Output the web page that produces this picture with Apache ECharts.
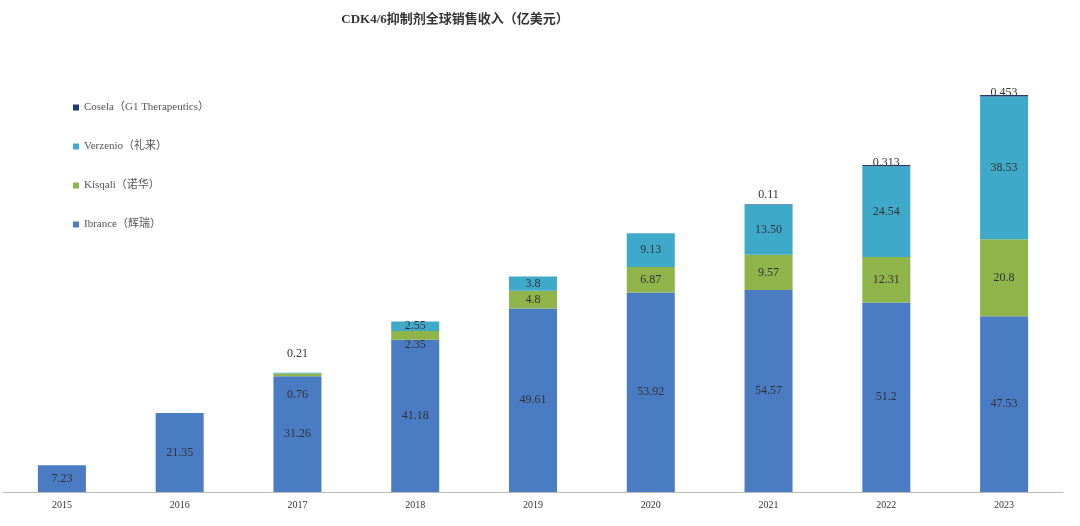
<!DOCTYPE html><html><head><meta charset="utf-8"><script src="https://cdn.jsdelivr.net/npm/echarts@6/dist/echarts.min.js"></script></head><body style="margin:0"><div id="c" style="width:1080px;height:526px"></div><script>
const years=['2015','2016','2017','2018','2019','2020','2021','2022','2023'];
const ibrance=[7.23,21.35,31.26,41.18,49.61,53.92,54.57,51.2,47.53];
const kisqali=[null,null,0.76,2.35,4.8,6.87,9.57,12.31,20.8];
const verzenio=[null,null,0.21,2.55,3.8,9.13,13.50,24.54,38.53];
const cosela=[null,null,null,null,null,null,0.11,0.313,0.453];
const ibLabels=['7.23','21.35','31.26','41.18','49.61','53.92','54.57','51.2','47.53'];
const kiLabels=['','','0.76','2.35','4.8','6.87','9.57','12.31','20.8'];
const veLabels=['','','0.21','2.55','3.8','9.13','13.50','24.54','38.53'];
const coLabels=['','','','','','','0.11','0.313','0.453'];
const F='"Liberation Serif","Noto Sans CJK SC",serif';
const lab={show:true,position:'inside',color:'#333',fontFamily:F,fontSize:12};
function mk(name,vals,labels,color,custom){
 return {name,type:'bar',stack:'s',barWidth:48,itemStyle:{color},
  data:vals.map((v,i)=>{const d={value:v};const c=custom&&custom[i];d.label=Object.assign({},lab,{formatter:labels[i]},c||{});return d;})};
}
const ch=echarts.init(document.getElementById('c'));
ch.setOption({
 animation:false,
 title:{text:'CDK4/6抑制剂全球销售收入（亿美元）',left:450,top:8,textAlign:'center',textStyle:{fontFamily:F,fontSize:13,fontWeight:'bold',color:'#333'}},
 legend:{orient:'vertical',left:68,top:97,itemGap:28,itemWidth:6,itemHeight:6,icon:'rect',textStyle:{fontFamily:F,fontSize:11,color:'#555'},
  data:['Cosela（G1 Therapeutics）','Verzenio（礼来）','Kisqali（诺华）','Ibrance（辉瑞）']},
 grid:{left:3,right:17,top:85,bottom:34},
 xAxis:{type:'category',data:years,axisTick:{show:false},axisLine:{lineStyle:{color:'#bbb'}},axisLabel:{fontFamily:F,fontSize:10,color:'#333',margin:8}},
 yAxis:{type:'value',min:0,max:110,show:false,splitLine:{show:false}},
 series:[
  mk('Ibrance（辉瑞）',ibrance,ibLabels,'#4a7cc4'),
  mk('Kisqali（诺华）',kisqali,kiLabels,'#8fb44a',{2:{position:'insideTop',offset:[0,10]},3:{position:'insideTop',offset:[0,3]}}),
  mk('Verzenio（礼来）',verzenio,veLabels,'#3ea9c8',{2:{position:'top',offset:[0,-8]}}),
  mk('Cosela（G1 Therapeutics）',cosela,coLabels,'#1f3d6e',{6:{position:'top',offset:[0,2]},7:{position:'top',offset:[0,9]},8:{position:'top',offset:[0,9]}})
 ]
});
</script></body></html>
